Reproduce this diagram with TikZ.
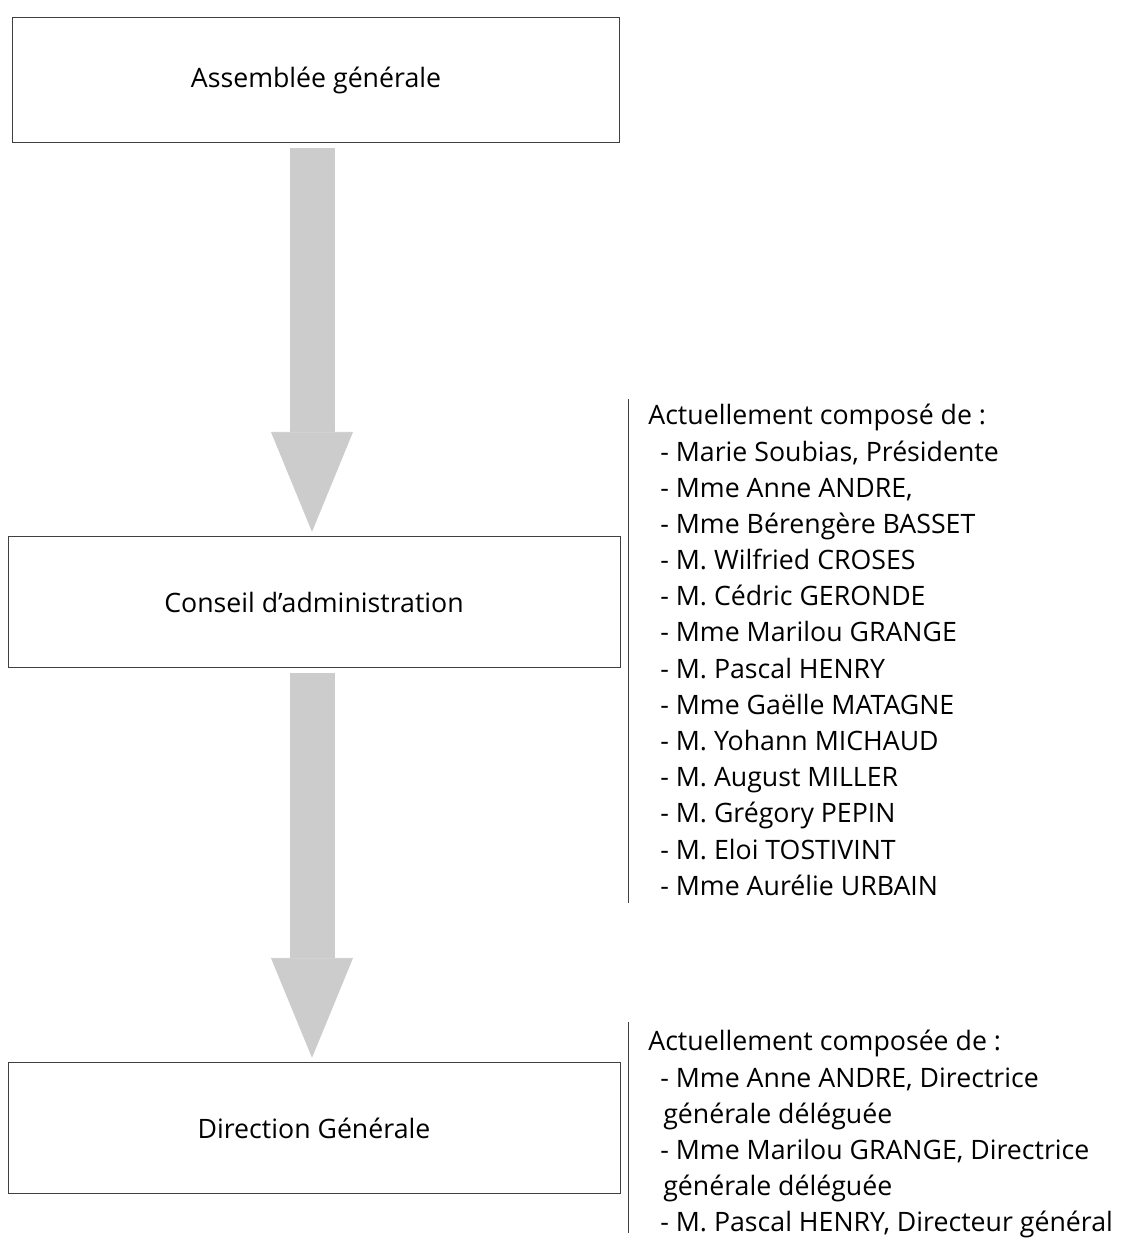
\documentclass[tikz,border=0pt]{standalone}
\usepackage{fontspec}
\setmainfont{Open Sans}
\usetikzlibrary{arrows.meta,positioning}

\newcommand\ind{\hspace*{0.24cm}}
\newcommand\wrp{\hspace*{0.3cm}}

\begin{document}
\begin{tikzpicture}[x=0.02cm,y=-0.02cm,
  orgbox/.style={draw=black!75, line width=0.5pt, minimum width=12.24cm, minimum height=2.62cm, font=\fontsize{15.2}{20.6}\selectfont},
  bigarrow/.style={draw=black!20, line width=0.9cm, -{Triangle[width=1.64cm,length=2cm,line width=0.5pt,round]}},
  members/.style={anchor=north west, align=left, inner xsep=0.4cm, inner ysep=0pt, font=\fontsize{15.2}{20.6}\selectfont},
  rule/.style={draw=black!75, line width=0.5pt}]
\useasboundingbox (0,0) rectangle (1127,1240);
\node[orgbox, minimum width=12.14cm, minimum height=2.5cm] (ag) at (316,80) {Assemblée générale};
\node[orgbox] (ca) at (314,602) {Conseil d’administration};
\node[orgbox] (dg) at (314,1128) {Direction Générale};
% arrows
\draw[bigarrow] ([xshift=-0.04cm,yshift=-0.1cm]ca.north |- ag.south) -- ([xshift=-0.04cm,yshift=0.1cm]ca.north);
\draw[bigarrow] ([xshift=-0.04cm,yshift=-0.1cm]dg.north |- ca.south) -- ([xshift=-0.04cm,yshift=0.1cm]dg.north);
% members
\node[members] (calist) at (628,404) {Actuellement composé de :\\
\ind- Marie Soubias, Présidente\\
\ind- Mme Anne ANDRE,\\
\ind- Mme Bérengère BASSET\\
\ind- M. Wilfried CROSES\\
\ind- M. Cédric GERONDE\\
\ind- Mme Marilou GRANGE\\
\ind- M. Pascal HENRY\\
\ind- Mme Gaëlle MATAGNE\\
\ind- M. Yohann MICHAUD\\
\ind- M. August MILLER\\
\ind- M. Grégory PEPIN\\
\ind- M. Eloi TOSTIVINT\\
\ind- Mme Aurélie URBAIN};
\node[members] (dglist) at (628,1030) {Actuellement composée de :\\
\ind- Mme Anne ANDRE, Directrice\\
\wrp générale déléguée\\
\ind- Mme Marilou GRANGE, Directrice\\
\wrp générale déléguée\\
\ind- M. Pascal HENRY, Directeur général};
\draw[rule] ([yshift=0.1cm]calist.north west) -- ([yshift=-0.14cm]calist.south west);
\draw[rule] ([yshift=0.16cm]dglist.north west) -- ([yshift=0.12cm]dglist.south west);
\end{tikzpicture}
\end{document}
